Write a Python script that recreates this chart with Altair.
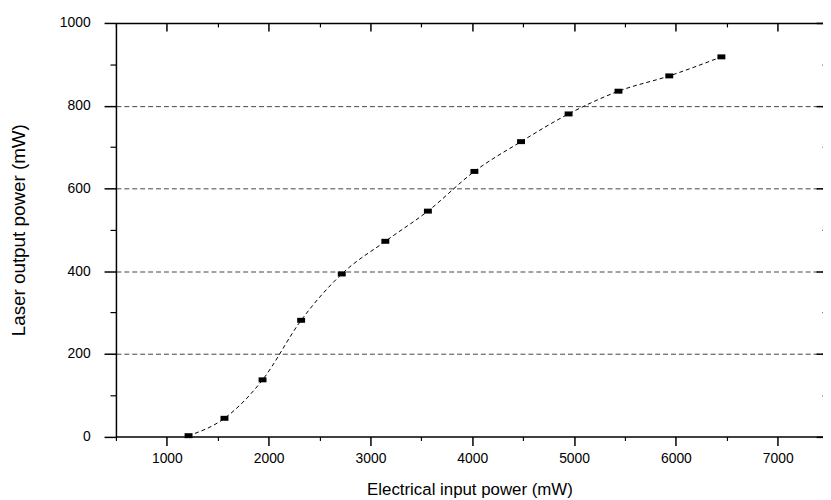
import altair as alt
import pandas as pd

# Data
input_power = [1213, 1566, 1940, 2319, 2718, 3146, 3564, 4021, 4479, 4946, 5436, 5935, 6447]
output_power = [2, 44, 137, 281, 393, 472, 545, 641, 713, 780, 835, 872, 918]

x_major = [1000, 2000, 3000, 4000, 5000, 6000, 7000]
x_minor = [500, 1500, 2500, 3500, 4500, 5500, 6500]
y_major = [0, 200, 400, 600, 800, 1000]
y_minor = [100, 300, 500, 700, 900]
y_grid = [200, 400, 600, 800]

df = pd.DataFrame({"x": input_power, "y": output_power})

FONT = "Liberation Sans"
xs = alt.Scale(domain=[500, 7445], nice=False, zero=False)
ys = alt.Scale(domain=[0, 1000], nice=False, zero=False)


def X(axis):
    return alt.X("x:Q", scale=xs, axis=axis)


def Y(axis):
    return alt.Y("y:Q", scale=ys, axis=axis)


def blank(**kw):
    base = dict(labels=False, domain=False, grid=False, title="", tickColor="black")
    base.update(kw)
    return alt.Axis(**base)


base = alt.Chart(df)

grid_layer = base.mark_point(opacity=0).encode(
    x=X(blank(orient="bottom", values=x_minor, tickSize=4, tickWidth=1.2)),
    y=Y(blank(orient="left", values=y_grid, ticks=False, grid=True, gridDash=[5, 3],
              gridColor="#444444", gridWidth=1)),
)

line = base.mark_line(interpolate="monotone", strokeDash=[4, 3], strokeWidth=1,
                      color="black").encode(
    x=X(blank(orient="top", ticks=False, domain=True, domainColor="black",
              domainWidth=1.5)),
    y=Y(blank(orient="left", values=y_minor, tickSize=6, tickWidth=1.2)),
)

points = base.mark_point(shape="M-1,-0.625L1,-0.625L1,0.625L-1,0.625Z", size=64,
                         filled=True, color="black", opacity=1).encode(
    x=X(alt.Axis(orient="bottom", values=x_major, format="d", tickSize=9,
                 tickWidth=1.5, tickColor="black",
                 domainColor="black", domainWidth=1.5, labelFont=FONT,
                 labelFontSize=14, labelColor="black", labelPadding=6,
                 labelFlush=False, grid=False,
                 title="Electrical input power (mW)", titleFont=FONT,
                 titleFontSize=17, titleFontWeight="normal", titleColor="black",
                 titlePadding=17)),
    y=Y(alt.Axis(orient="left", values=y_major, format="d", tickSize=12,
                 tickWidth=1.5, tickColor="black",
                 domainColor="black", domainWidth=1.5, labelFont=FONT,
                 labelFontSize=14, labelColor="black", labelPadding=14,
                 labelFlush=False, grid=False,
                 title="Laser output power (mW)", titleFont=FONT,
                 titleFontSize=19, titleFontWeight="normal", titleColor="black",
                 titlePadding=31)),
)

top_major = base.mark_point(opacity=0).encode(
    x=X(blank(orient="top", values=x_major, tickSize=8, offset=-8, tickWidth=1.5)),
    y=Y(blank(orient="right", values=y_major, tickSize=7, offset=-7, tickWidth=1.5)),
)

top_minor = base.mark_point(opacity=0).encode(
    x=X(blank(orient="top", values=x_minor, tickSize=4, offset=-4, tickWidth=1.2)),
    y=Y(blank(orient="right", values=y_minor, tickSize=1, offset=-1, tickWidth=1.2)),
)

chart = alt.layer(grid_layer, line, points, top_major, top_minor).resolve_axis(
    x="independent", y="independent"
).properties(
    width=714,
    height=417.6,
    autosize=alt.AutoSizeParams(type="none"),
    padding={"left": 109, "top": 12.7, "right": 0, "bottom": 60},
).configure_view(stroke=None)

chart.save("out.html", embed_options={"renderer": "svg", "actions": False})
